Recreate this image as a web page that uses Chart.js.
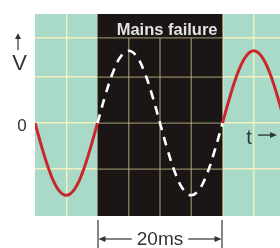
<!DOCTYPE html>
<html>
<head>
<meta charset="utf-8">
<script src="https://cdn.jsdelivr.net/npm/chart.js@4/dist/chart.umd.min.js"></script>
<style>
html,body{margin:0;padding:0;background:#ffffff;}
#c{display:block;}
</style>
</head>
<body>
<canvas id="c" width="280" height="248"></canvas>
<script>
// ---- data (time in ms, voltage in grid divisions) ----
const timeBefore = [0, 1.25, 2.5, 3.75, 5, 6.25, 7.5, 8.75, 10];
const voltsBefore = [0, -0.60, -1.11, -1.45, -1.57, -1.45, -1.11, -0.60, 0];
const timeFailure = [10, 11.25, 12.5, 13.75, 15, 16.25, 17.5, 18.75, 20, 21.25, 22.5, 23.75, 25, 26.25, 27.5, 28.75, 30];
const voltsMissing = [0, 0.60, 1.11, 1.45, 1.57, 1.45, 1.11, 0.60, 0, -0.60, -1.11, -1.45, -1.57, -1.45, -1.11, -0.60, 0];
const timeAfter = [30, 31.25, 32.5, 33.75, 35, 36.25, 37.5, 38.75, 40];
const voltsAfter = [0, 0.60, 1.11, 1.45, 1.57, 1.45, 1.11, 0.60, 0];
const failureWindow = [10, 30];
const xGridTicks = [5, 10, 15, 20, 25, 30, 35];
const yGridTicks = [-1, 0, 1, 1.85];
const failureLabel = 'Mains failure';
const periodLabel = '20ms';
const yAxisLabel = 'V';
const zeroLabel = '0';
const xAxisLabel = 't';

const pts = (xs, ys) => xs.map((x, i) => ({x: x, y: ys[i]}));

const TEAL = '#a9dac8';
const GRID = '#f3f0bd';
const DARK = '#1b1615';
const INK = '#333333';

function arrowHead(ctx, x, y, dir) {
  // dir: 'up','left','right'
  ctx.beginPath();
  if (dir === 'up') { ctx.moveTo(x, y); ctx.lineTo(x - 3, y + 6); ctx.lineTo(x + 3, y + 6); }
  if (dir === 'left') { ctx.moveTo(x, y); ctx.lineTo(x + 7, y - 3); ctx.lineTo(x + 7, y + 3); }
  if (dir === 'right') { ctx.moveTo(x, y); ctx.lineTo(x - 7, y - 3); ctx.lineTo(x - 7, y + 3); }
  ctx.closePath();
  ctx.fill();
}

const decor = {
  id: 'decor',
  beforeDraw(chart) {
    const {ctx, chartArea: a} = chart;
    ctx.save();
    ctx.fillStyle = TEAL;
    ctx.fillRect(a.left, a.top, a.right - a.left, a.bottom - a.top);
    ctx.restore();
  },
  beforeDatasetsDraw(chart) {
    const {ctx, chartArea: a} = chart;
    const xs = chart.scales.x, ys = chart.scales.y;
    const x0 = xs.getPixelForValue(failureWindow[0]);
    const x1 = xs.getPixelForValue(failureWindow[1]);
    ctx.save();
    ctx.fillStyle = DARK;
    ctx.fillRect(x0, a.top, x1 - x0, a.bottom - a.top);
    // dim grid inside the failure window
    const bandBottom = ys.getPixelForValue(yGridTicks[yGridTicks.length - 1]);
    ctx.strokeStyle = 'rgba(215,205,150,0.6)';
    ctx.lineWidth = 1.3;
    xGridTicks.forEach(v => {
      if (v > failureWindow[0] && v < failureWindow[1]) {
        const px = xs.getPixelForValue(v);
        ctx.beginPath(); ctx.moveTo(px, bandBottom); ctx.lineTo(px, a.bottom); ctx.stroke();
      }
    });
    yGridTicks.forEach(v => {
      const py = ys.getPixelForValue(v);
      ctx.beginPath(); ctx.moveTo(x0, py); ctx.lineTo(x1, py); ctx.stroke();
    });
    // label
    ctx.fillStyle = '#e2e2e2';
    ctx.font = 'bold 16.5px "Liberation Sans", Arial, sans-serif';
    ctx.textAlign = 'right';
    ctx.textBaseline = 'alphabetic';
    ctx.fillText(failureLabel, x1 - 5, a.top + 21);
    ctx.restore();
  },
  afterDraw(chart) {
    const {ctx, chartArea: a} = chart;
    const xs = chart.scales.x, ys = chart.scales.y;
    const x0 = xs.getPixelForValue(failureWindow[0]);
    const x1 = xs.getPixelForValue(failureWindow[1]);
    const zeroY = ys.getPixelForValue(0);
    ctx.save();
    ctx.fillStyle = INK;
    ctx.strokeStyle = INK;
    ctx.font = '22px "Liberation Sans", Arial, sans-serif';
    ctx.textAlign = 'center';
    ctx.textBaseline = 'alphabetic';
    // V with arrow
    ctx.fillText(yAxisLabel, 19.5, 70);
    ctx.lineWidth = 1.2;
    ctx.beginPath(); ctx.moveTo(18, 38); ctx.lineTo(18, 50); ctx.stroke();
    arrowHead(ctx, 18, 33, 'up');
    // zero
    ctx.font = '17px "Liberation Sans", Arial, sans-serif';
    ctx.fillText(zeroLabel, 22, zeroY + 8);
    // t ->
    ctx.fillStyle = '#2d3a36';
    ctx.strokeStyle = '#2d3a36';
    ctx.font = '20px "Liberation Sans", Arial, sans-serif';
    ctx.fillText(xAxisLabel, 249, zeroY + 21);
    ctx.lineWidth = 1.4;
    ctx.beginPath(); ctx.moveTo(258, zeroY + 12); ctx.lineTo(272, zeroY + 12); ctx.stroke();
    arrowHead(ctx, 277, zeroY + 12, 'right');
    // 20ms dimension
    ctx.fillStyle = INK; ctx.strokeStyle = INK;
    ctx.lineWidth = 1.2;
    const yb = a.bottom + 4, ya = 239;
    ctx.beginPath(); ctx.moveTo(x0 + 0.5, yb); ctx.lineTo(x0 + 0.5, 248); ctx.stroke();
    ctx.beginPath(); ctx.moveTo(x1 - 0.5, yb); ctx.lineTo(x1 - 0.5, 248); ctx.stroke();
    const mid = (x0 + x1) / 2;
    ctx.font = '19px "Liberation Sans", Arial, sans-serif';
    ctx.textAlign = 'center';
    ctx.fillText(periodLabel, mid, 245);
    const half = ctx.measureText(periodLabel).width / 2 + 5;
    ctx.beginPath(); ctx.moveTo(x0 + 6, ya); ctx.lineTo(mid - half, ya); ctx.stroke();
    ctx.beginPath(); ctx.moveTo(mid + half, ya); ctx.lineTo(x1 - 6, ya); ctx.stroke();
    arrowHead(ctx, x0 + 1, ya, 'left');
    arrowHead(ctx, x1 - 1, ya, 'right');
    ctx.restore();
  }
};

new Chart(document.getElementById('c'), {
  type: 'line',
  data: {
    datasets: [
      {data: pts(timeBefore, voltsBefore), borderColor: '#c9272b', borderWidth: 3, tension: 0.4, pointRadius: 0},
      {data: pts(timeFailure, voltsMissing), borderColor: '#ffffff', borderWidth: 2.6, borderDash: [9, 7], tension: 0.4, pointRadius: 0},
      {data: pts(timeAfter, voltsAfter), borderColor: '#c9272b', borderWidth: 3, tension: 0.4, pointRadius: 0}
    ]
  },
  options: {
    responsive: false,
    animation: false,
    events: [],
    layout: {padding: {left: 35, top: 14, right: 0, bottom: 32}},
    plugins: {legend: {display: false}, tooltip: {enabled: false}},
    scales: {
      x: {
        type: 'linear', min: 0, max: 39.2,
        afterBuildTicks: s => { s.ticks = xGridTicks.map(v => ({value: v})); },
        ticks: {display: false},
        border: {display: false},
        grid: {color: GRID, lineWidth: 1.4, drawTicks: false}
      },
      y: {
        type: 'linear', min: -2.02, max: 2.37,
        afterBuildTicks: s => { s.ticks = yGridTicks.map(v => ({value: v})); },
        ticks: {display: false},
        border: {display: false},
        grid: {color: GRID, lineWidth: 1.4, drawTicks: false}
      }
    }
  },
  plugins: [decor]
});
</script>
</body>
</html>
